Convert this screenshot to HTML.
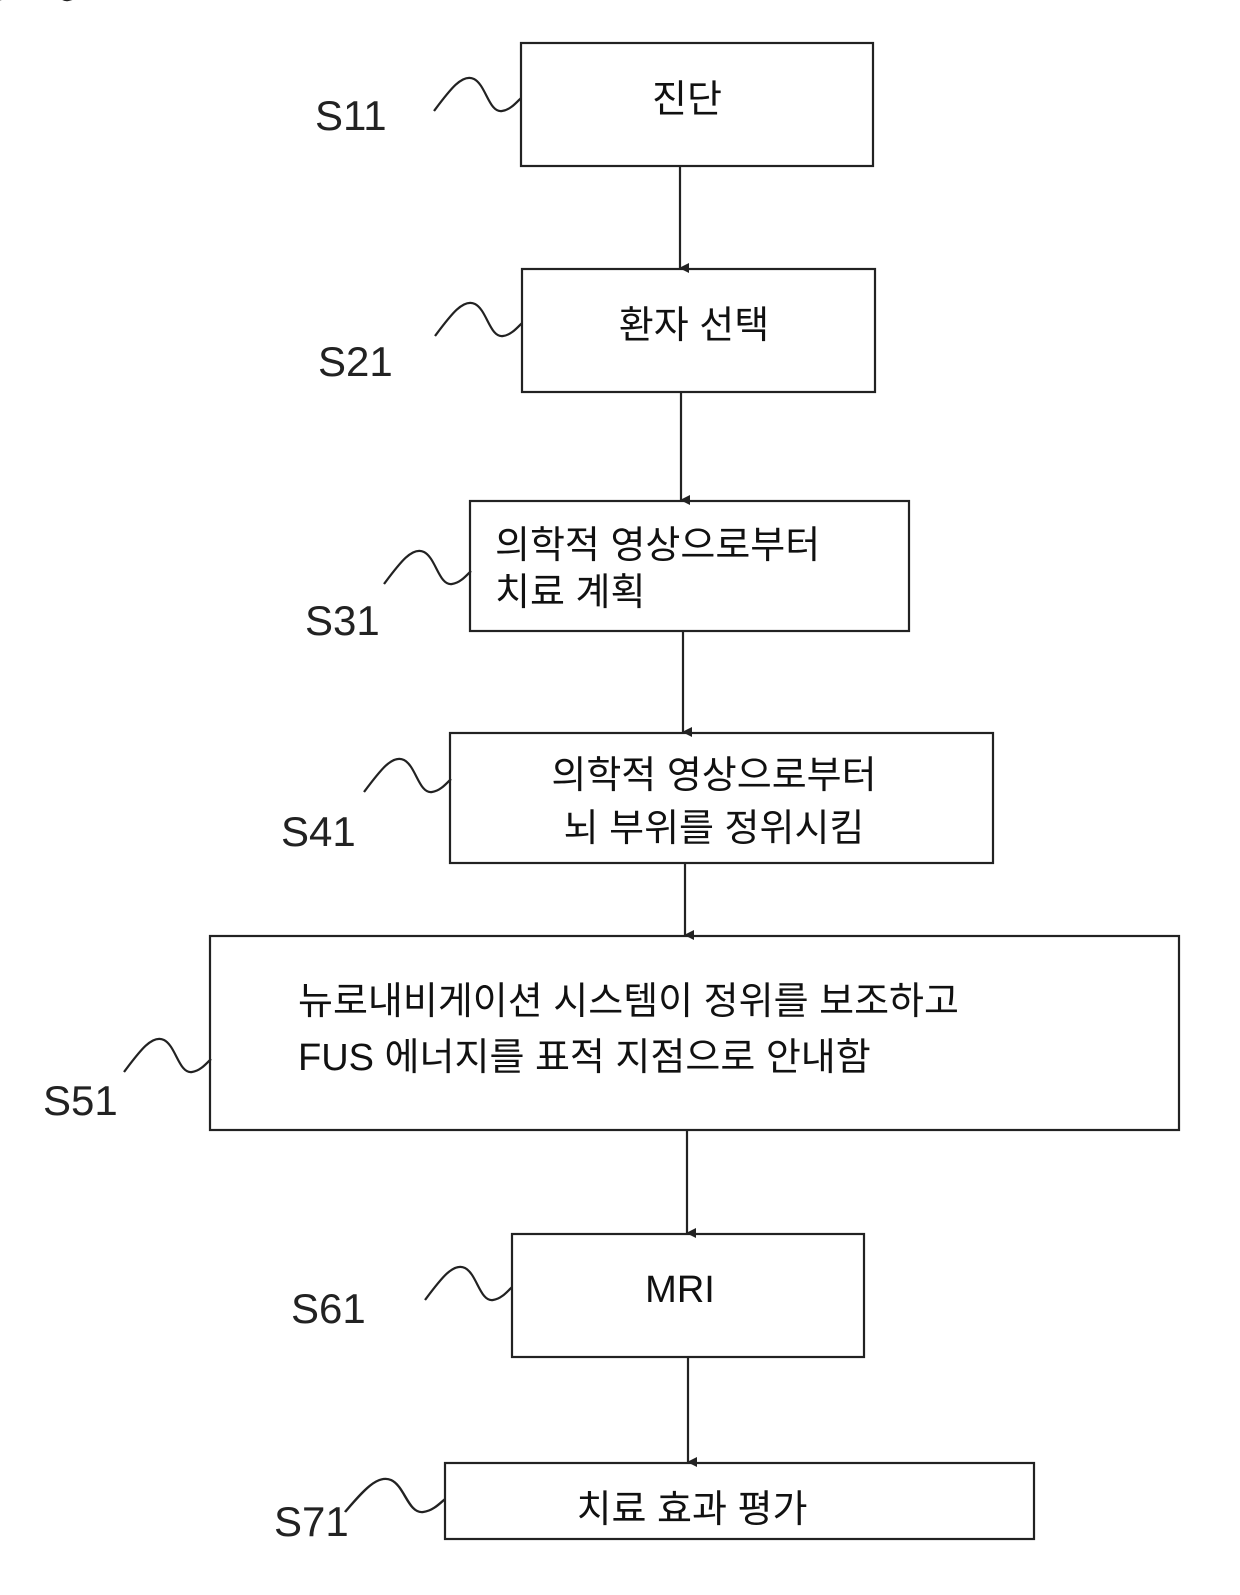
<!DOCTYPE html>
<html><head><meta charset="utf-8"><style>
html,body{margin:0;padding:0;background:#fff;}
body{width:1240px;height:1595px;position:relative;overflow:hidden;}
svg{position:absolute;left:0;top:0;}
text{font-family:"Liberation Sans","Noto Sans CJK KR","NanumGothic",sans-serif;fill:#111;}
.k{font-size:38px;}
.l{font-size:42px;fill:#222;}
</style></head><body>
<svg width="1240" height="1595" viewBox="0 0 1240 1595">
<defs><marker id="a" markerWidth="10" markerHeight="10" refX="5" refY="9" orient="auto" markerUnits="userSpaceOnUse"><path d="M0,0 L10,0 L5,10 Z" fill="#222"/></marker></defs>
<g fill="none" stroke="#222" stroke-width="2.2">
<rect x="521" y="43" width="352" height="123"/>
<rect x="522" y="269" width="353" height="123"/>
<rect x="470" y="501" width="439" height="130"/>
<rect x="450" y="733" width="543" height="130"/>
<rect x="210" y="936" width="969" height="194"/>
<rect x="512" y="1234" width="352" height="123"/>
<rect x="445" y="1463" width="589" height="76"/>
<line x1="680" y1="166" x2="680" y2="268" marker-end="url(#a)"/>
<line x1="681" y1="392" x2="681" y2="500" marker-end="url(#a)"/>
<line x1="683" y1="631" x2="683" y2="732" marker-end="url(#a)"/>
<line x1="685" y1="863" x2="685" y2="935" marker-end="url(#a)"/>
<line x1="687" y1="1130" x2="687" y2="1233" marker-end="url(#a)"/>
<line x1="688" y1="1357" x2="688" y2="1462" marker-end="url(#a)"/>
<g id="s"><path d="M0,0 C15,-20 28,-38 40,-32 C52,-26 55,2 68,0 C76,-1 82,-8 87,-13"/></g>
<use href="#s" transform="translate(434,111)"/>
<use href="#s" transform="translate(435,336)"/>
<use href="#s" transform="translate(384,584)"/>
<use href="#s" transform="translate(364,792)"/>
<use href="#s" transform="translate(124,1072)"/>
<use href="#s" transform="translate(425,1300)"/>
<use href="#s" transform="translate(345,1512) scale(1.15,1)"/>
</g>
<text class="k" x="687" y="112" text-anchor="middle">진단</text>
<text class="k" x="694" y="338" text-anchor="middle">환자 선택</text>
<text class="k" x="495" y="558">의학적 영상으로부터</text>
<text class="k" x="495" y="605">치료 계획</text>
<text class="k" x="714" y="788" text-anchor="middle">의학적 영상으로부터</text>
<text class="k" x="714" y="841" text-anchor="middle">뇌 부위를 정위시킴</text>
<text class="k" x="298" y="1014">뉴로내비게이션 시스템이 정위를 보조하고</text>
<text class="k" x="298" y="1070">FUS 에너지를 표적 지점으로 안내함</text>
<text class="k" x="680" y="1302" text-anchor="middle">MRI</text>
<text class="k" x="692" y="1522" text-anchor="middle">치료 효과 평가</text>
<text class="l" x="315" y="130">S11</text>
<text class="l" x="318" y="376">S21</text>
<text class="l" x="305" y="635">S31</text>
<text class="l" x="281" y="846">S41</text>
<text class="l" x="43" y="1115">S51</text>
<text class="l" x="291" y="1323">S61</text>
<text class="l" x="274" y="1536">S71</text>
</svg>
</body></html>
